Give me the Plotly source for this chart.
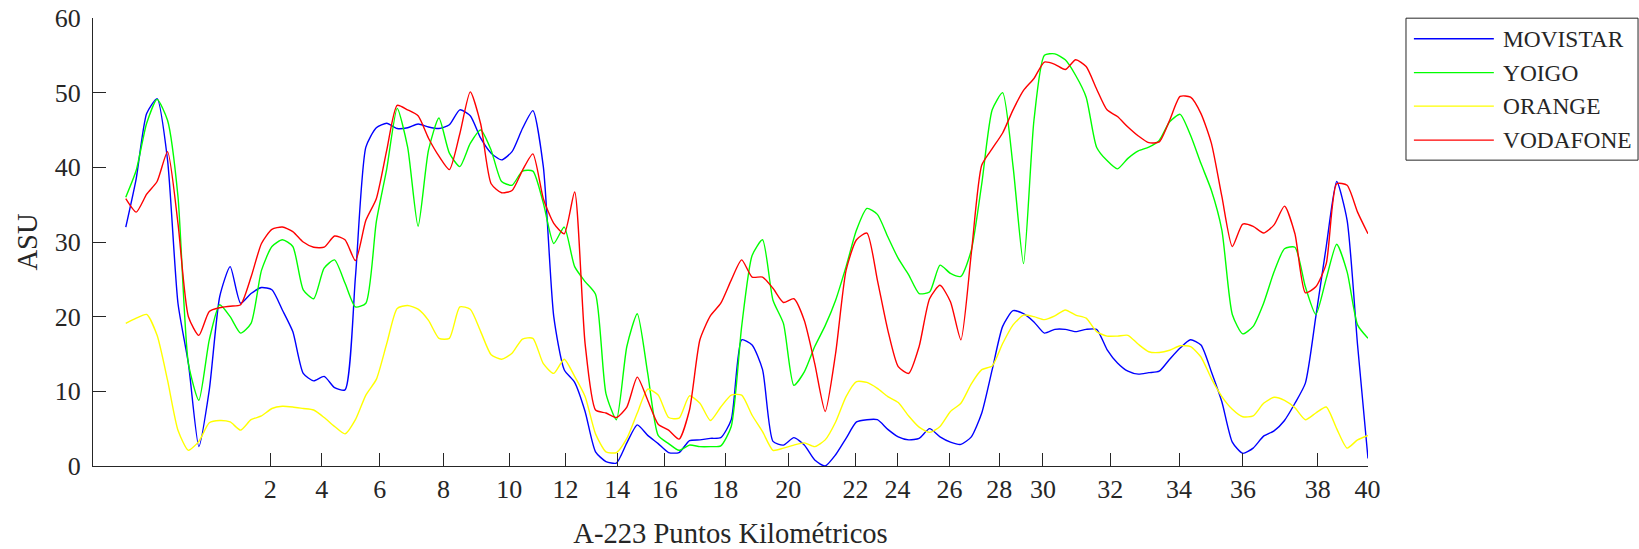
import plotly.graph_objects as go

# ---- data (sample index along the A-223 route) ----
movistar = [32.0, 38.5, 47.2, 49.2, 41.0, 21.8, 13.7, 2.6, 10.2, 22.7, 26.7, 21.8, 23.1, 23.9, 23.6,
            20.9, 18.0, 12.4, 11.4, 12.0, 10.5, 10.2, 25.3, 42.7, 45.3, 45.9, 45.2, 45.3, 45.8, 45.4,
            45.2, 45.7, 47.7, 46.9, 43.9, 41.9, 41.0, 42.1, 45.2, 47.6, 40.1, 20.0, 12.9, 11.2, 7.3,
            1.9, 0.6, 0.4, 3.1, 5.5, 4.1, 3.0, 1.8, 1.8, 3.4, 3.5, 3.7, 3.8, 6.2, 16.9, 16.2,
            12.9, 3.3, 2.8, 3.8, 2.8, 0.8, 0.0, 1.5, 3.7, 5.9, 6.2, 6.2, 4.9, 3.9, 3.5,
            3.7, 5.0, 3.9, 3.2, 2.9, 3.9, 7.1, 12.9, 18.7, 20.8, 20.4, 19.3, 17.8, 18.3, 18.3,
            18.0, 18.3, 18.3, 15.6, 13.8, 12.7, 12.3, 12.5, 12.7, 14.3, 15.8, 16.9, 16.2, 12.6, 8.6,
            3.2, 1.7, 2.4, 4.0, 4.7, 6.1, 8.4, 11.1, 20.0, 29.4, 38.1, 32.9, 16.2, 1.0]

yoigo = [36.0, 39.6, 45.9, 49.1, 46.3, 36.1, 13.7, 8.8, 16.9, 21.6, 20.0, 17.8, 19.1, 26.2, 29.4,
         30.3, 29.4, 23.6, 22.4, 26.5, 27.6, 24.5, 21.3, 21.8, 32.7, 39.8, 47.9, 42.7, 32.1, 42.3,
         46.6, 41.9, 40.1, 43.2, 45.0, 42.3, 38.1, 37.6, 39.5, 39.5, 35.2, 29.8, 32.0, 26.7, 24.7,
         23.0, 9.7, 6.2, 16.0, 20.4, 12.4, 4.1, 3.0, 2.1, 2.8, 2.6, 2.6, 2.7, 5.3, 18.7, 28.2,
         30.3, 22.2, 19.1, 10.8, 12.6, 16.0, 18.8, 22.2, 26.7, 31.6, 34.5, 33.7, 30.7, 27.8, 25.6,
         23.1, 23.3, 26.9, 25.8, 25.4, 28.9, 37.8, 47.7, 50.0, 40.1, 27.1, 46.3, 55.0, 55.2, 54.4,
         52.3, 49.4, 42.7, 40.9, 39.8, 41.2, 42.2, 42.7, 43.6, 46.1, 47.1, 44.3, 40.5, 36.9, 31.6,
         20.3, 17.7, 18.7, 21.8, 26.0, 29.1, 29.3, 24.0, 20.3, 25.1, 29.7, 26.0, 18.9, 17.1]

orange = [19.1, 19.8, 20.3, 17.5, 11.5, 4.8, 2.1, 3.3, 5.8, 6.1, 5.9, 4.8, 6.2, 6.7, 7.7,
          8.0, 7.9, 7.7, 7.5, 6.5, 5.3, 4.3, 6.2, 9.5, 11.6, 16.4, 21.1, 21.5, 21.0, 19.5,
          17.1, 17.1, 21.3, 21.0, 18.0, 14.9, 14.3, 15.1, 17.0, 17.1, 13.7, 12.4, 14.3, 12.0, 9.3,
          4.3, 1.9, 1.8, 3.7, 7.1, 10.3, 9.5, 6.5, 6.4, 9.4, 8.4, 6.1, 7.9, 9.5, 9.5, 6.8,
          4.6, 2.1, 2.4, 2.8, 3.1, 2.6, 3.5, 5.9, 9.3, 11.3, 11.2, 10.4, 9.3, 8.5, 6.7,
          5.2, 4.5, 5.3, 7.3, 8.4, 11.0, 12.9, 13.4, 16.4, 18.9, 20.2, 20.0, 19.6, 20.1, 20.9,
          20.2, 19.8, 18.0, 17.4, 17.4, 17.5, 16.3, 15.3, 15.2, 15.5, 16.1, 16.0, 14.6, 11.7, 9.3,
          7.6, 6.6, 6.7, 8.4, 9.2, 8.8, 7.8, 6.2, 7.1, 7.9, 5.0, 2.4, 3.5, 4.1]

vodafone = [35.8, 34.0, 36.4, 38.1, 42.1, 32.5, 20.0, 17.5, 20.7, 21.2, 21.4, 21.6, 25.3, 29.8, 31.7,
            32.0, 31.4, 30.0, 29.3, 29.3, 30.8, 30.3, 27.5, 32.9, 35.8, 42.3, 48.3, 47.7, 46.9, 43.9,
            41.5, 39.7, 44.5, 50.1, 45.8, 37.8, 36.6, 36.9, 39.6, 41.8, 35.8, 32.5, 31.1, 36.7, 16.4,
            7.5, 7.1, 6.5, 7.9, 11.9, 8.8, 5.6, 4.8, 3.6, 7.5, 16.9, 20.1, 21.8, 24.9, 27.6, 25.3,
            25.3, 23.8, 21.9, 22.4, 19.5, 13.7, 7.3, 15.1, 26.2, 30.3, 31.2, 24.9, 18.2, 13.3, 12.4,
            16.0, 22.4, 24.2, 22.0, 16.9, 28.5, 40.3, 42.5, 44.6, 47.7, 50.3, 51.9, 54.1, 53.8, 53.1,
            54.4, 53.5, 50.5, 47.7, 46.8, 45.4, 44.2, 43.3, 43.4, 46.3, 49.5, 49.4, 47.2, 43.2, 36.1,
            29.4, 32.4, 32.1, 31.2, 32.3, 34.8, 31.1, 23.2, 24.0, 27.1, 37.8, 37.6, 34.0, 31.1]

sample_index = list(range(len(movistar)))

# kilometre markers (label, sample index where the marker falls)
pk_labels = ["2", "4", "6", "8", "10", "12", "14", "16", "18", "20",
             "22", "24", "26", "28", "30", "32", "34", "36", "38", "40"]
pk_index = [13.85, 18.77, 24.33, 30.44, 36.73, 42.12, 47.07, 51.62, 57.42, 63.46,
            69.90, 73.93, 78.92, 83.67, 87.86, 94.30, 100.90, 107.02, 114.19, 118.95]

series_names = ["MOVISTAR", "YOIGO", "ORANGE", "VODAFONE"]
series_values = [movistar, yoigo, orange, vodafone]
series_colors = ["#0000FF", "#00FF00", "#FFFF00", "#FF0000"]

FONT = "Times New Roman"
TXT = "#262626"

fig = go.Figure()
for name, vals, col in zip(series_names, series_values, series_colors):
    fig.add_trace(go.Scatter(
        x=sample_index, y=vals, mode="lines", name=name,
        line=dict(color=col, width=1.4, shape="spline", smoothing=0.6),
        showlegend=False,
    ))

fig.update_layout(
    width=1639, height=549,
    margin=dict(l=93, r=271, t=18, b=83, autoexpand=False),
    paper_bgcolor="white", plot_bgcolor="white",
    font=dict(family=FONT, size=26, color=TXT),
    xaxis=dict(
        range=[-3.14, 119], tickmode="array", tickvals=pk_index, ticktext=pk_labels,
        showline=True, linecolor=TXT, linewidth=1.3, mirror=False,
        ticks="inside", ticklen=13, tickcolor=TXT, tickwidth=1.3,
        showgrid=False, zeroline=False, automargin=False,
        tickfont=dict(size=26, color=TXT, family=FONT),
        title=dict(text="A-223 Puntos Kilométricos", font=dict(size=28.6, color=TXT, family=FONT), standoff=19),
    ),
    yaxis=dict(
        range=[0, 60], dtick=10, tick0=0,
        showline=True, linecolor=TXT, linewidth=1.3,
        ticks="inside", ticklen=13, tickcolor=TXT, tickwidth=1.3,
        showgrid=False, zeroline=False, automargin=False,
        tickfont=dict(size=26, color=TXT, family=FONT),
        ticklabelstandoff=6,
        title=dict(text="ASU", font=dict(size=28.6, color=TXT, family=FONT), standoff=8),
    ),
)

# custom legend (MATLAB style box with long line samples)
box_x0, box_x1, box_y0, box_y1 = 1.0298, 1.2118, 0.6827, 0.9996
row_y = [0.9536, 0.8780, 0.8032, 0.7274]
fig.add_shape(type="rect", xref="paper", yref="paper", x0=box_x0, x1=box_x1, y0=box_y0, y1=box_y1,
              line=dict(color=TXT, width=1), fillcolor="white", layer="above")
for name, col, yy in zip(series_names, series_colors, row_y):
    fig.add_shape(type="line", xref="paper", yref="paper", x0=1.0360, x1=1.0987, y0=yy, y1=yy,
                  line=dict(color=col, width=1.4))
    fig.add_annotation(xref="paper", yref="paper", x=1.1043, y=yy, text=name, showarrow=False,
                       xanchor="left", yanchor="middle", font=dict(family=FONT, size=23.4, color=TXT))

fig.write_html("out.html", config={"displayModeBar": False},
               post_script="document.body.style.margin='0px';")
